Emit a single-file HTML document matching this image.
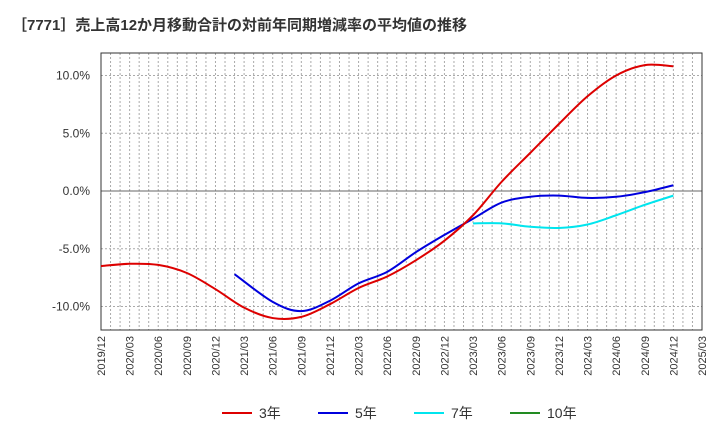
<!DOCTYPE html><html><head><meta charset="utf-8"><style>body{margin:0;background:#fff}svg{font-family:"Liberation Sans","Noto Sans CJK JP",sans-serif}</style></head><body>
<svg id="c" width="720" height="440"></svg>
<script>
const tickLabels=["2019/12","2020/03","2020/06","2020/09","2020/12","2021/03","2021/06","2021/09","2021/12","2022/03","2022/06","2022/09","2022/12","2023/03","2023/06","2023/09","2023/12","2024/03","2024/06","2024/09","2024/12","2025/03"];
const yTicks=[10,5,0,-5,-10];
const m3=[0,3,6,9,12,15,18,21,24,27,30,33,36,39,42,45,48,51,54,57,60];
const v3=[-6.5,-6.3,-6.4,-7.1,-8.5,-10.1,-11.0,-10.9,-9.8,-8.4,-7.4,-6.0,-4.3,-2.1,0.8,3.3,5.8,8.2,10.0,10.9,10.8];
const m5=[14,18,21,24,27,30,33,36,39,42,45,48,51,54,57,60];
const v5=[-7.2,-9.6,-10.4,-9.5,-8.0,-7.0,-5.3,-3.8,-2.4,-1.0,-0.5,-0.4,-0.6,-0.5,-0.1,0.5];
const m7=[39,42,45,48,51,54,57,60];
const v7=[-2.8,-2.8,-3.1,-3.2,-2.9,-2.1,-1.2,-0.4];
const L=101,R=702,T=53,B=330;
const X=m=>L+m*(R-L)/63, Y=v=>191-v*11.55;
const s=document.getElementById('c');const NS='http://www.w3.org/2000/svg';
function el(t,a,p){const e=document.createElementNS(NS,t);for(const k in a)e.setAttribute(k,a[k]);(p||s).appendChild(e);return e;}
const t=el('text',{x:12,y:30,'font-size':15,'font-weight':'bold',fill:'#333'});t.textContent='［7771］売上高12か月移動合計の対前年同期増減率の平均値の推移';

for(let m=1;m<63;m++)el('line',{x1:X(m),x2:X(m),y1:T,y2:B,stroke:'#aaa','stroke-dasharray':'2,2','stroke-width':1});
yTicks.forEach(v=>{el('line',{x1:L,x2:R,y1:Y(v),y2:Y(v),stroke:v==0?'#666':'#aaa','stroke-dasharray':v==0?'':'2,2'});
const tx=el('text',{x:90,y:Y(v)+4,'text-anchor':'end','font-size':12,fill:'#333'});tx.textContent=v.toFixed(1)+'%';});
const fr=el('rect',{x:L,y:T,width:R-L,height:B-T,fill:'none',stroke:'#333'});
tickLabels.forEach((l,i)=>{const x=X(i*3);const tx=el('text',{transform:`translate(${x+4},${B+6}) rotate(-90)`,'text-anchor':'end','font-size':11,fill:'#333'});tx.textContent=l;});
function path(ms,vs){const p=ms.map((m,i)=>[X(m),Y(vs[i])]);let d='M'+p[0];for(let i=0;i<p.length-1;i++){const a=p[i-1]||p[i],b=p[i],c=p[i+1],e=p[i+2]||c;d+=` C${b[0]+(c[0]-a[0])/6},${b[1]+(c[1]-a[1])/6} ${c[0]-(e[0]-b[0])/6},${c[1]-(e[1]-b[1])/6} ${c[0]},${c[1]}`;}return d;}
[[m7,v7,'#00e5ee','line-7y'],[m5,v5,'#0000dd','line-5y'],[m3,v3,'#dd0000','line-3y']].forEach(([m,v,c,n])=>{const p=el('path',{d:path(m,v),fill:'none',stroke:c,'stroke-width':2});});
[['3年','#dd0000',222],['5年','#0000dd',318],['7年','#00e5ee',414],['10年','#228b22',510]].forEach(([l,c,x])=>{const g=el('g',{});el('line',{x1:x,x2:x+30,y1:413,y2:413,stroke:c,'stroke-width':2},g);const tx=el('text',{x:x+37,y:418,'font-size':14,fill:'#333'},g);tx.textContent=l;});
</script></body></html>
